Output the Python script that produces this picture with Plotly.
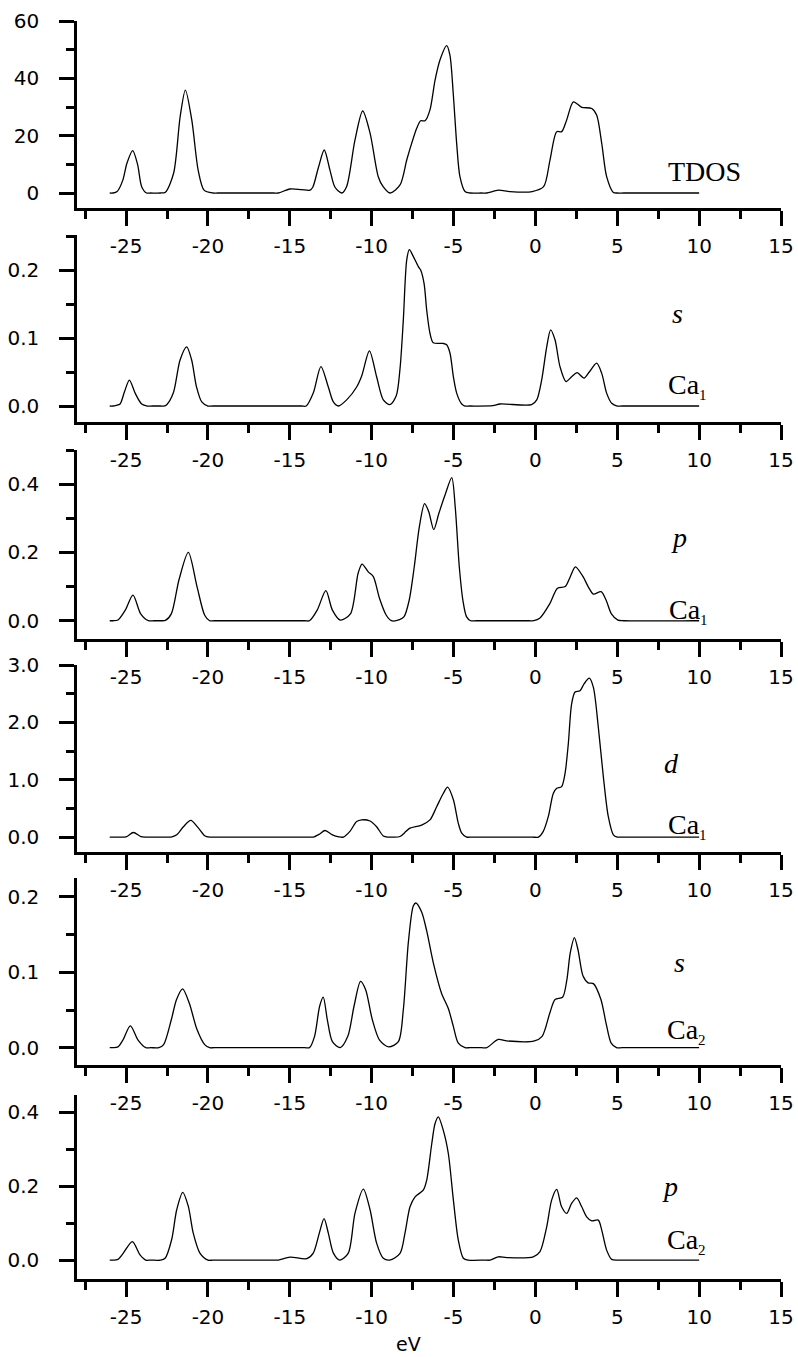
import plotly.graph_objects as go

# ---------------- data ----------------
# Panel 1: TDOS
E_tdos = [-26.0, -25.8, -25.55, -25.2, -24.95, -24.6, -24.3, -24.05, -23.75, -23.5, -22.9, -22.6, -22.1,
          -21.7, -21.38, -20.99, -20.6, -20.24, -19.7, -19.4, -16.0, -15.7, -15.0, -14.3, -13.77, -13.6,
          -13.25, -12.9, -12.55, -12.24, -11.83, -11.53, -11.02, -10.55, -10.1, -9.6, -9.3, -8.88,
          -8.27, -7.86, -7.56, -7.25, -7.01, -6.74, -6.44, -6.13, -5.83, -5.42, -5.22, -5.02, -4.81,
          -4.61, -4.3, -4.0, -3.3, -2.97, -2.27, -1.55, -0.2, 0.5, 0.89, 1.3, 1.6, 1.91, 2.32, 2.83,
          3.44, 3.74, 4.05, 4.35, 4.76, 5.0, 5.4, 9.7, 10.0]
tdos = [0, 0, 0.5, 4.5, 10.4, 14.8, 10.0, 2.2, 0, 0, 0, 0.3, 6.9,
        26.6, 35.9, 25.5, 8.0, 1.0, 0, 0, 0, 0, 1.4, 1.2, 1.0, 2.0,
        9.0, 15.0, 8.0, 2.0, 0, 2.3, 18.5, 28.6, 20.9, 5.7, 2.2, 0,
        2.8, 11.5, 17.3, 22.6, 25.2, 25.2, 29.0, 39.4, 46.4, 51.4, 48.0, 34.8, 17.3,
        5.7, 0.5, 0, 0, 0, 1.0, 0.5, 0.5, 2.2, 11.5, 21.4, 21.4, 25.5, 31.8, 29.9,
        29.5, 27.2, 17.3, 5.7, 0.2, 0, 0, 0, 0]

# Panel 2: Ca1 s
E_ca1_s = [-26.0, -25.8, -25.6, -25.37, -25.1, -24.8, -24.45, -24.05, -23.7, -23.4, -22.9, -22.7,
           -22.52, -22.12, -21.7, -21.3, -21.0, -20.7, -20.38, -20.0, -19.7, -14.3, -14.0, -13.57,
           -13.1, -12.65, -12.34, -12.04, -11.53, -10.92, -10.6, -10.14, -9.7, -9.29, -8.88, -8.5,
           -8.27, -8.07, -7.86, -7.7, -7.46, -7.15, -7.01, -6.8, -6.64, -6.44, -6.24, -5.63, -5.42,
           -5.22, -5.01, -4.81, -4.5, -4.3, -4.0, -2.6, -2.16, -0.23, 0.08, 0.38, 0.69, 0.93, 1.2, 1.5,
           1.87, 2.21, 2.55, 2.97, 3.29, 3.74, 4.05, 4.35, 4.66, 5.0, 5.3, 9.7, 10.0]
ca1_s = [0, 0, 0.001, 0.003, 0.021, 0.038, 0.019, 0.003, 0, 0, 0, 0,
         0.002, 0.019, 0.068, 0.087, 0.068, 0.028, 0.006, 0, 0, 0, 0, 0.019,
         0.058, 0.028, 0.006, 0.0, 0.009, 0.028, 0.045, 0.081, 0.043, 0.009, 0.002, 0.015,
         0.055, 0.126, 0.215, 0.23, 0.22, 0.205, 0.2, 0.18, 0.141, 0.107, 0.093, 0.092, 0.09,
         0.078, 0.043, 0.019, 0.003, 0, 0, 0.0005, 0.003, 0.002, 0.009, 0.038, 0.087, 0.112, 0.097,
         0.058, 0.036, 0.043, 0.049, 0.041, 0.05, 0.063, 0.048, 0.019, 0.004, 0, 0, 0, 0]

# Panel 3: Ca1 p
E_ca1_p = [-26.0, -25.8, -25.5, -25.05, -24.58, -24.11, -23.64, -23.3, -22.9, -22.6, -22.24, -21.77,
           -21.2, -20.67, -20.2, -19.9, -19.6, -14.1, -13.8, -13.33, -12.8, -12.4, -11.92, -11.3,
           -10.83, -10.59, -10.21, -9.9, -9.52, -9.11, -8.8, -8.3, -8.02, -7.71, -7.4, -7.09, -6.77,
           -6.52, -6.21, -5.9, -5.52, -5.11, -4.9, -4.65, -4.43, -4.21, -3.96, -3.6, -0.4, -0.1, 0.26,
           0.88, 1.35, 1.82, 2.13, 2.44, 2.91, 3.22, 3.54, 4.01, 4.32, 4.63, 5.04, 5.4, 9.7, 10.0]
ca1_p = [0, 0, 0.002, 0.031, 0.075, 0.02, 0, 0, 0, 0.001, 0.02, 0.12,
         0.2, 0.1, 0.016, 0, 0, 0, 0, 0.031, 0.088, 0.031, 0.002, 0.02,
         0.139, 0.166, 0.143, 0.129, 0.065, 0.016, 0, 0.003, 0.012, 0.06, 0.158, 0.275, 0.343,
         0.32, 0.267, 0.314, 0.368, 0.419, 0.334, 0.158, 0.06, 0.012, 0, 0, 0, 0, 0.007,
         0.05, 0.095, 0.1, 0.129, 0.158, 0.129, 0.1, 0.078, 0.085, 0.06, 0.021, 0.002, 0, 0, 0]

# Panel 4: Ca1 d
E_ca1_d = [-26.0, -25.6, -25.0, -24.56, -24.1, -23.8, -23.4, -22.5, -22.2, -21.91, -21.5, -21.05,
           -20.59, -20.18, -19.9, -19.6, -13.9, -13.57, -13.2, -12.85, -12.4, -12.0, -11.73, -11.33,
           -10.92, -10.61, -10.1, -9.7, -9.29, -9.0, -8.7, -8.27, -7.9, -7.66, -6.95, -6.44, -6.03,
           -5.63, -5.36, -5.01, -4.71, -4.5, -4.2, -3.9, -0.2, 0.18, 0.48, 0.79, 1.09, 1.3, 1.6, 1.81,
           2.01, 2.21, 2.42, 2.72, 2.97, 3.29, 3.54, 3.84, 4.15, 4.45, 4.76, 5.0, 5.3, 9.7, 10.0]
ca1_d = [0, 0, 0.005, 0.08, 0.01, 0, 0, 0, 0.005, 0.04, 0.18, 0.29,
         0.16, 0.02, 0, 0, 0, 0, 0.05, 0.115, 0.04, 0.005, 0, 0.1,
         0.27, 0.3, 0.28, 0.18, 0.02, 0, 0, 0.01, 0.1, 0.156, 0.21, 0.3, 0.53,
         0.76, 0.87, 0.65, 0.24, 0.07, 0, 0, 0, 0, 0.1, 0.36, 0.76, 0.85, 0.88, 1.11,
         1.63, 2.32, 2.53, 2.55, 2.67, 2.77, 2.61, 1.92, 1.05, 0.36, 0.04, 0, 0, 0, 0]

# Panel 5: Ca2 s
E_ca2_s = [-26.0, -25.8, -25.5, -25.2, -24.74, -24.27, -23.8, -23.5, -23.0, -22.71, -22.24, -21.92,
           -21.55, -21.14, -20.67, -20.2, -19.9, -19.6, -14.1, -13.8, -13.49, -13.18, -12.96, -12.71,
           -12.4, -11.92, -11.46, -11.08, -10.68, -10.37, -9.96, -9.52, -8.96, -8.37, -8.07, -7.76,
           -7.46, -7.3, -6.95, -6.64, -6.24, -5.73, -5.32, -5.01, -4.71, -4.3, -4.0, -3.3, -2.97,
           -2.27, -1.75, -0.06, 0.41, 0.88, 1.2, 1.66, 1.92, 2.13, 2.38, 2.6, 2.91, 3.22, 3.54, 4.0,
           4.32, 4.63, 4.95, 5.3, 9.7, 10.0]
ca2_s = [0, 0, 0.001, 0.01, 0.029, 0.01, 0, 0, 0, 0.004, 0.037, 0.064,
         0.078, 0.059, 0.024, 0.004, 0, 0, 0, 0, 0.015, 0.055, 0.067, 0.037,
         0.008, 0, 0.015, 0.055, 0.088, 0.077, 0.037, 0.01, 0.001, 0.008, 0.05, 0.14,
         0.188, 0.192, 0.18, 0.155, 0.113, 0.072, 0.052, 0.028, 0.006, 0, 0, 0, 0,
         0.011, 0.009, 0.009, 0.015, 0.046, 0.064, 0.067, 0.09, 0.126, 0.146, 0.13, 0.095, 0.086,
         0.085, 0.064, 0.032, 0.006, 0, 0, 0, 0]

# Panel 6: Ca2 p
E_ca2_p = [-26.0, -25.8, -25.5, -25.17, -24.62, -24.15, -23.8, -23.5, -22.9, -22.62, -22.22, -21.91,
           -21.54, -21.2, -20.9, -20.49, -20.0, -19.7, -16.0, -15.7, -14.99, -13.97, -13.57, -13.2,
           -12.91, -12.65, -12.34, -11.94, -11.43, -11.02, -10.51, -10.1, -9.7, -9.29, -8.9, -8.27,
           -7.97, -7.66, -7.35, -6.85, -6.64, -6.33, -6.13, -5.93, -5.63, -5.32, -5.01, -4.71, -4.4,
           -4.1, -3.1, -2.77, -2.27, -1.75, -0.13, 0.28, 0.69, 0.99, 1.3, 1.6, 1.91, 2.21, 2.52, 2.83,
           3.13, 3.44, 3.84, 4.05, 4.35, 4.66, 5.0, 5.3, 9.7, 10.0]
ca2_p = [0, 0, 0.002, 0.019, 0.05, 0.014, 0, 0, 0, 0.005, 0.055, 0.136,
         0.183, 0.145, 0.073, 0.019, 0, 0, 0, 0, 0.008, 0.004, 0.019, 0.073,
         0.112, 0.073, 0.019, 0, 0.019, 0.127, 0.192, 0.136, 0.046, 0.005, 0, 0.018,
         0.072, 0.144, 0.171, 0.189, 0.216, 0.315, 0.369, 0.387, 0.351, 0.288, 0.162, 0.054, 0.005,
         0, 0, 0, 0.009, 0.007, 0.009, 0.023, 0.09, 0.162, 0.191, 0.144, 0.126, 0.153, 0.168, 0.144,
         0.117, 0.106, 0.108, 0.081, 0.027, 0.002, 0, 0, 0, 0]

x_tickvals = [-25, -20, -15, -10, -5, 0, 5, 10, 15]
x_ticktext = ["-25", "-20", "-15", "-10", "-5", "0", "5", "10", "15"]

y_tickvals = [[0, 20, 40, 60], [0, 0.1, 0.2], [0, 0.2, 0.4], [0, 1, 2, 3], [0, 0.1, 0.2], [0, 0.2, 0.4]]
y_ticktext = [["0", "20", "40", "60"], ["0.0", "0.1", "0.2"], ["0.0", "0.2", "0.4"],
              ["0.0", "1.0", "2.0", "3.0"], ["0.0", "0.1", "0.2"], ["0.0", "0.2", "0.4"]]

orbital_labels = ["", "s", "p", "d", "s", "p"]
sub_style = "<sub><span style='font-size:15px'>{}</span></sub>"
site_labels = ["TDOS", "Ca" + sub_style.format("1"), "Ca" + sub_style.format("1"),
               "Ca" + sub_style.format("1"), "Ca" + sub_style.format("2"), "Ca" + sub_style.format("2")]

# ---------------- layout geometry (pixels) ----------------
W, H = 798, 1357
ML, MR, MT, MB = 77, 17, 21, 78
PW = W - ML - MR
PH = H - MT - MB


def px_x(p):
    return (p - ML) / PW


def px_y(p):
    return (H - MB - p) / PH


panel_px = [(21, 208), (235, 422), (450, 639), (665, 852), (878, 1065), (1095, 1279)]
y_ranges = [[-5.23, 60], [-0.0235, 0.2515], [-0.0535, 0.5], [-0.26, 3.0], [-0.023, 0.2252], [-0.051, 0.446]]
y_minor = [10, 0.05, 0.1, 0.5, 0.05, 0.1]

series = [(E_tdos, tdos), (E_ca1_s, ca1_s), (E_ca1_p, ca1_p), (E_ca1_d, ca1_d),
          (E_ca2_s, ca2_s), (E_ca2_p, ca2_p)]

tick_font = dict(family="DejaVu Sans", size=20, color="black")

fig = go.Figure()
layout = dict(
    width=W, height=H,
    margin=dict(l=ML, r=MR, t=MT, b=MB, autoexpand=False),
    paper_bgcolor="white", plot_bgcolor="white",
    showlegend=False,
)

for i, (ex, ey) in enumerate(series):
    n = i + 1
    sx = "" if n == 1 else str(n)
    fig.add_trace(go.Scatter(x=ex, y=ey, mode="lines",
                             line=dict(color="black", width=1.3, shape="spline", smoothing=0.8),
                             xaxis="x" + sx, yaxis="y" + sx, hoverinfo="skip"))
    top, bot = panel_px[i]
    layout["xaxis" + sx] = dict(
        domain=[0, 1], anchor="y" + sx, range=[-28, 15],
        tickmode="array", tickvals=x_tickvals, ticktext=x_ticktext,
        ticks="outside", ticklen=15, tickwidth=2.5, tickcolor="black",
        showline=True, linewidth=2.5, linecolor="black",
        showgrid=False, zeroline=False, tickfont=tick_font, ticklabelstandoff=3,
        ticklabeloverflow="allow",
        minor=dict(ticks="outside", ticklen=8, tickwidth=2.5, tickcolor="black",
                   tick0=0, dtick=2.5, showgrid=False),
    )
    layout["yaxis" + sx] = dict(
        domain=[px_y(bot), px_y(top)], anchor="x" + sx, range=y_ranges[i],
        tickmode="array", tickvals=y_tickvals[i], ticktext=y_ticktext[i],
        ticks="outside", ticklen=15, tickwidth=2.5, tickcolor="black",
        showline=True, linewidth=2.5, linecolor="black",
        showgrid=False, zeroline=False, tickfont=tick_font, ticklabelstandoff=16,
        ticklabeloverflow="allow",
        minor=dict(ticks="outside", ticklen=8, tickwidth=2.5, tickcolor="black",
                   tick0=0, dtick=y_minor[i], showgrid=False),
    )

serif = "Liberation Serif"
ann = []
# (text, x pixel, y pixel of text middle, xanchor, italic)
label_pos = [
    (site_labels[0], 666, 172, "left", False),
    (orbital_labels[1], 677, 313, "center", True),
    (site_labels[1], 666, 386, "left", False),
    (orbital_labels[2], 679, 537, "center", True),
    (site_labels[2], 667, 611, "left", False),
    (orbital_labels[3], 671, 763, "center", True),
    (site_labels[3], 666, 826, "left", False),
    (orbital_labels[4], 679, 962, "center", True),
    (site_labels[4], 665, 1031, "left", False),
    (orbital_labels[5], 670, 1186, "center", True),
    (site_labels[5], 665, 1241, "left", False),
]
for text, xp, yp, xa, it in label_pos:
    ann.append(dict(text=text, x=px_x(xp), y=px_y(yp), xref="paper", yref="paper",
                    xanchor=xa, yanchor="middle", showarrow=False,
                    font=dict(family=serif, size=28, color="black",
                              style="italic" if it else "normal")))
ann.append(dict(text="eV", x=px_x(408), y=px_y(1344), xref="paper", yref="paper",
                xanchor="center", yanchor="middle", showarrow=False,
                font=dict(family="DejaVu Sans", size=19, color="black")))
layout["annotations"] = ann

fig.update_layout(**layout)
fig.write_html("out.html", config={"displayModeBar": False},
               post_script="document.body.style.margin='0';document.body.style.overflow='hidden';")
